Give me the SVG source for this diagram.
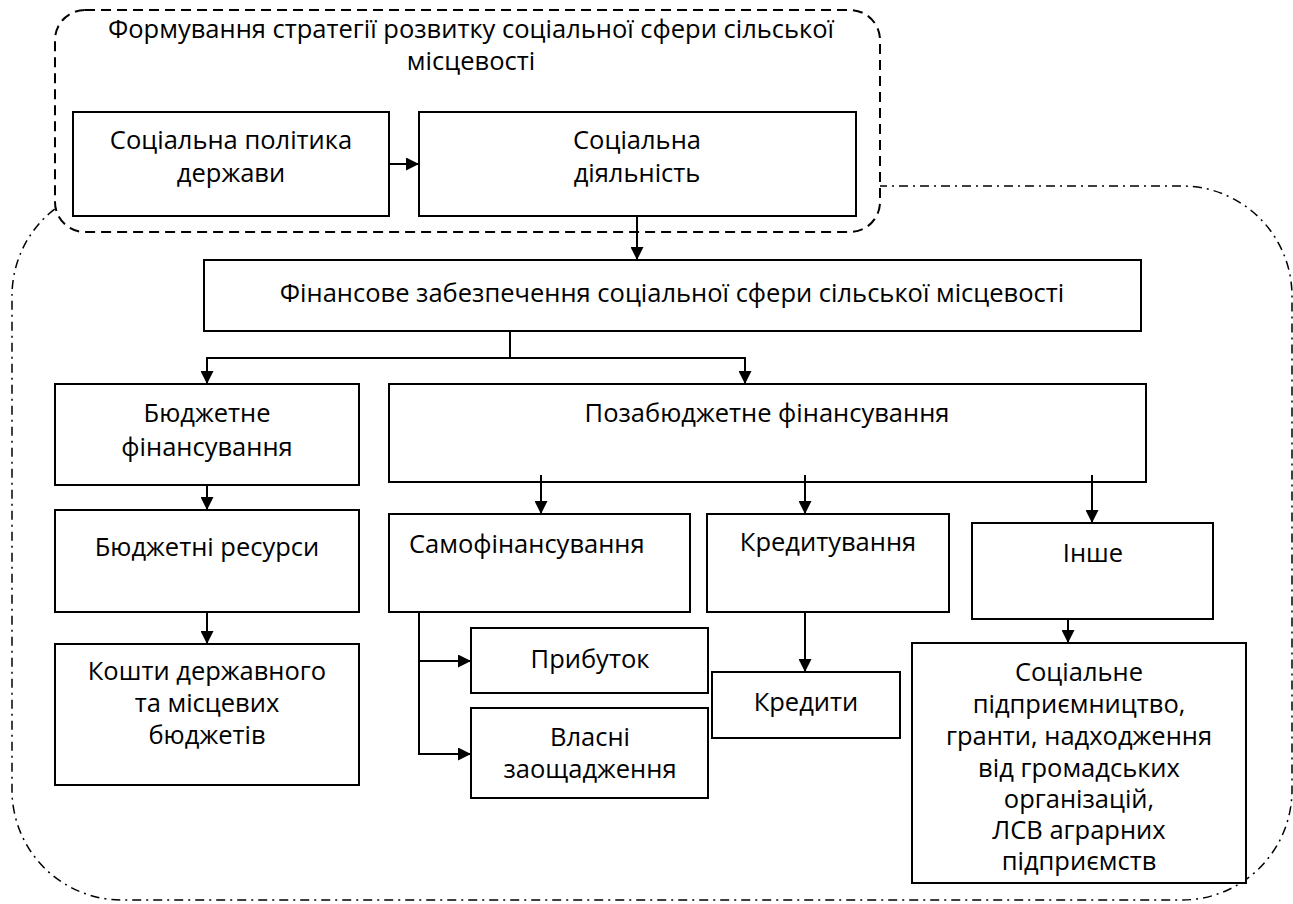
<svg xmlns="http://www.w3.org/2000/svg" width="1293" height="904" viewBox="0 0 1293 904">
<defs>
<marker id="ah" viewBox="0 0 12 12" refX="12" refY="6" markerWidth="13" markerHeight="13" markerUnits="userSpaceOnUse" orient="auto">
<path d="M0,0 L12,6 L0,12 Z" fill="#000"/>
</marker>
<style>
.box{fill:#fff;stroke:#000;stroke-width:2}
.t{font-family:"Open Sans","DejaVu Sans",sans-serif;font-size:25.5px;fill:#000;text-anchor:middle}
.tl{text-anchor:start}
.c{fill:none;stroke:#000;stroke-width:2}
.ca{fill:none;stroke:#000;stroke-width:2;marker-end:url(#ah)}
</style>
</defs>
<rect width="1293" height="904" fill="#fff"/>
<g id="outer">
<path d="M122,186 H1182 A110,110 0 0 1 1292,296 V790 A110,110 0 0 1 1182,900 H122 A110,110 0 0 1 12,790 V296 A110,110 0 0 1 122,186 Z" fill="none" stroke="#000" stroke-width="1.5" stroke-dasharray="9 5 2 5"/>
</g>
<g id="strategy">
<rect x="55" y="10" width="825" height="222" rx="30" fill="#fff" stroke="#000" stroke-width="2" stroke-dasharray="10 6"/>
<text class="t" x="471" y="38">Формування стратегії розвитку соціальної сфери сільської</text>
<text class="t" x="471" y="70">місцевості</text>
</g>
<g id="policy">
<rect class="box" x="73" y="112" width="316" height="104"/>
<text class="t" x="231" y="149">Соціальна політика</text>
<text class="t" x="231" y="182">держави</text>
</g>
<g id="activity">
<rect class="box" x="419" y="112" width="437" height="104"/>
<text class="t" x="637" y="149">Соціальна</text>
<text class="t" x="637" y="182">діяльність</text>
</g>
<g id="financing">
<rect class="box" x="204" y="260" width="937" height="71"/>
<text class="t" x="672" y="302">Фінансове забезпечення соціальної сфери сільської місцевості</text>
</g>
<g id="budget">
<rect class="box" x="55" y="384" width="304" height="101"/>
<text class="t" x="207" y="422">Бюджетне</text>
<text class="t" x="207" y="456">фінансування</text>
</g>
<g id="extrabudget">
<rect class="box" x="389" y="384" width="757" height="98"/>
<text class="t" x="767" y="422">Позабюджетне фінансування</text>
</g>
<g id="budgetres">
<rect class="box" x="55" y="510" width="304" height="102"/>
<text class="t" x="207" y="556">Бюджетні ресурси</text>
</g>
<g id="funds">
<rect class="box" x="55" y="644" width="304" height="141"/>
<text class="t" x="207" y="680">Кошти державного</text>
<text class="t" x="207" y="712">та місцевих</text>
<text class="t" x="207" y="744">бюджетів</text>
</g>
<g id="selffin">
<rect class="box" x="389" y="514" width="301" height="98"/>
<text class="t tl" x="409" y="553">Самофінансування</text>
</g>
<g id="credit">
<rect class="box" x="707" y="514" width="242" height="98"/>
<text class="t" x="828" y="551">Кредитування</text>
</g>
<g id="other">
<rect class="box" x="972" y="523" width="241" height="96"/>
<text class="t" x="1093" y="562">Інше</text>
</g>
<g id="profit">
<rect class="box" x="471" y="628" width="237" height="65"/>
<text class="t" x="590" y="668">Прибуток</text>
</g>
<g id="savings">
<rect class="box" x="471" y="708" width="237" height="90"/>
<text class="t" x="590" y="746">Власні</text>
<text class="t" x="590" y="778">заощадження</text>
</g>
<g id="credits">
<rect class="box" x="712" y="672" width="188" height="66"/>
<text class="t" x="806" y="711">Кредити</text>
</g>
<g id="social">
<rect class="box" x="912" y="643" width="334" height="240"/>
<text class="t" x="1079" y="681">Соціальне</text>
<text class="t" x="1079" y="713">підприємництво,</text>
<text class="t" x="1079" y="745">гранти, надходження</text>
<text class="t" x="1079" y="777">від громадських</text>
<text class="t" x="1079" y="808">організацій,</text>
<text class="t" x="1079" y="839">ЛСВ аграрних</text>
<text class="t" x="1079" y="870">підприємств</text>
</g>
<g id="connectors">
<path class="ca" d="M389,164 H419"/>
<path class="ca" d="M637,216 V260"/>
<path class="c" d="M510,331 V358 M207,358 H745"/>
<path class="ca" d="M207,357 V384"/>
<path class="ca" d="M745,357 V384"/>
<path class="ca" d="M541,475 V514"/>
<path class="ca" d="M805,475 V514"/>
<path class="ca" d="M1092,475 V523"/>
<path class="ca" d="M207,485 V510"/>
<path class="ca" d="M207,612 V644"/>
<path class="c" d="M419,612 V754"/>
<path class="ca" d="M418,661 H471"/>
<path class="ca" d="M418,754 H471"/>
<path class="ca" d="M805,612 V672"/>
<path class="ca" d="M1068,619 V643"/>
</g>
</svg>
